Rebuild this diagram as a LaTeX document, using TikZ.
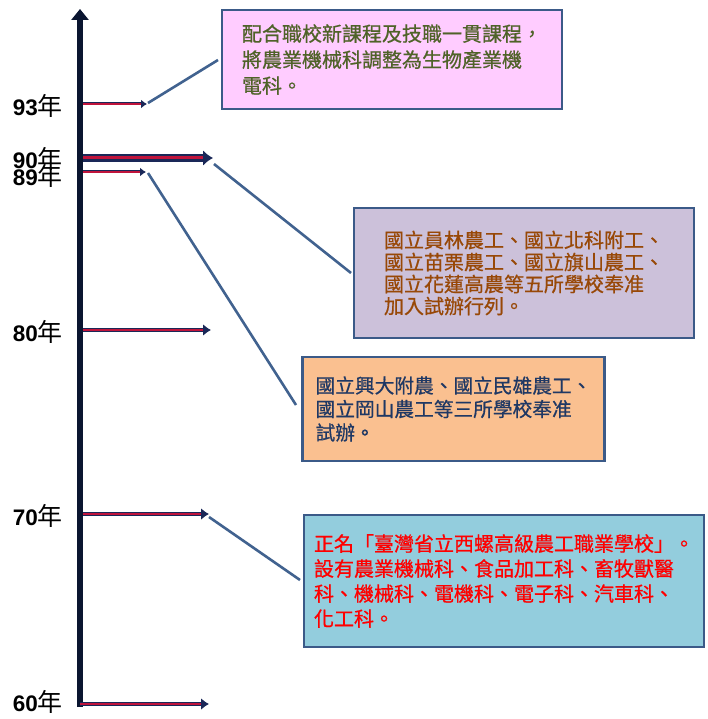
\documentclass[tikz,border=0pt]{standalone}
\usepackage{fontspec}
\setsansfont{Liberation Sans}
\newfontfamily\cjk{Noto Sans CJK TC}
\newfontfamily\cjkbox[FakeBold=0.7]{Noto Sans CJK TC}
\usetikzlibrary{arrows.meta}
\definecolor{edgeblue}{HTML}{41628F}
\definecolor{boxline}{HTML}{3B5A88}
\definecolor{navyarr}{HTML}{1A2858}
\definecolor{redcore}{HTML}{C0143C}
\definecolor{axiscol}{HTML}{0A1530}
\definecolor{pinkfill}{HTML}{FFCCFF}
\definecolor{lilacfill}{HTML}{CCC1DA}
\definecolor{peachfill}{HTML}{FAC090}
\definecolor{skyfill}{HTML}{93CDDD}
\definecolor{olivetext}{HTML}{4F6228}
\definecolor{browntext}{HTML}{984807}
\definecolor{navytext}{HTML}{1F3864}
\tikzset{
  yearlabel/.style={anchor=east, inner sep=0pt},
  infobox/.style={draw=boxline, line width=2.5pt, inner sep=0pt, align=left},
  connector/.style={draw=edgeblue, line width=2.6pt},
  bigarrow/.style={draw=navyarr, line width=4pt, -{Latex[length=8pt,width=12pt]}},
  hugearrow/.style={draw=navyarr, line width=7.5pt, -{Latex[length=10pt,width=16pt]}},
  smallarrow/.style={draw=navyarr, line width=3pt, -{Latex[length=6pt,width=9pt]}},
  corestroke/.style={draw=redcore, line width=1.2pt},
}
\newcommand{\yr}[1]{{\sffamily\bfseries\fontsize{22.5}{22.5}\selectfont #1}{\cjk\fontsize{25}{25}\selectfont 年}}
\begin{document}
\begin{tikzpicture}[x=1pt,y=-1pt]
\useasboundingbox (0,0) rectangle (707,719);

% axis
\coordinate (axB) at (80,707);
\coordinate (axT) at (80,9);
\draw[draw=axiscol, line width=6pt, -{Triangle[width=17pt,length=11pt]}] (axB) -- (axT);

% year arrows
\coordinate (s93) at (83,104);  \coordinate (e93) at (147,104);
\coordinate (s90) at (83,158);  \coordinate (e90) at (213,158);
\coordinate (s89) at (83,172);  \coordinate (e89) at (146,172);
\coordinate (s80) at (83,330);  \coordinate (e80) at (211,330);
\coordinate (s70) at (83,514);  \coordinate (e70) at (209,514);
\coordinate (s60) at (80,704);  \coordinate (e60) at (209,704);

\draw[smallarrow] (s93) -- (e93);
\draw[corestroke] (s93) -- ([xshift=-6pt]e93);
\draw[hugearrow] (s90) -- (e90);
\draw[redcore, line width=3pt] (s90) -- ([xshift=-10pt]e90);
\draw[smallarrow] (s89) -- (e89);
\draw[corestroke] (s89) -- ([xshift=-6pt]e89);
\draw[bigarrow] (s80) -- (e80);
\draw[corestroke] (s80) -- ([xshift=-8pt]e80);
\draw[bigarrow] (s70) -- (e70);
\draw[corestroke] (s70) -- ([xshift=-8pt]e70);
\draw[bigarrow] (s60) -- (e60);
\draw[corestroke] (s60) -- ([xshift=-8pt]e60);

% year labels
\node[yearlabel] (l93) at (63,106) {\yr{93}};
\node[yearlabel] (l90) at (63,159) {\yr{90}};
\node[yearlabel] (l89) at (63,176) {\yr{89}};
\node[yearlabel] (l80) at (63,332) {\yr{80}};
\node[yearlabel] (l70) at (63,516) {\yr{70}};
\node[yearlabel] (l60) at (63,702) {\yr{60}};

% boxes
\node[infobox, fill=pinkfill, text=olivetext, minimum width=340pt, minimum height=99pt,
  font=\cjkbox\fontsize{20}{26}\selectfont] (b93) at (392,59.5)
  {配合職校新課程及技職一貫課程，\\將農業機械科調整為生物產業機\\電科。};
\node[infobox, fill=lilacfill, text=browntext, minimum width=340pt, minimum height=130pt,
  font=\cjkbox\fontsize{20}{22}\selectfont] (b90) at (524,273)
  {國立員林農工、國立北科附工、\\國立苗栗農工、國立旗山農工、\\國立花蓮高農等五所學校奉准\\加入試辦行列。};
\node[infobox, fill=peachfill, text=navytext, minimum width=302pt, minimum height=104pt,
  font=\cjkbox\fontsize{19.7}{23.5}\selectfont] (b89) at (453.5,409)
  {國立興大附農、國立民雄農工、\\國立岡山農工等三所學校奉准\\試辦。};
\node[infobox, fill=skyfill, text=red, minimum width=400pt, minimum height=132pt,
  font=\cjkbox\fontsize{20}{25}\selectfont] (b70) at (504,581)
  {正名「臺灣省立西螺高級農工職業學校」。\\設有農業機械科、食品加工科、畜牧獸醫\\科、機械科、電機科、電子科、汽車科、\\化工科。};

% connectors
\coordinate (c93a) at (148,103); \coordinate (c93b) at (218,60);
\coordinate (c90a) at (214,164); \coordinate (c90b) at (351,273);
\coordinate (c89a) at (148,173); \coordinate (c89b) at (296,405);
\coordinate (c70a) at (209,517); \coordinate (c70b) at (300,580);
\draw[connector] (c93a) -- (c93b);
\draw[connector] (c90a) -- (c90b);
\draw[connector] (c89a) -- (c89b);
\draw[connector] (c70a) -- (c70b);
\end{tikzpicture}
\end{document}
